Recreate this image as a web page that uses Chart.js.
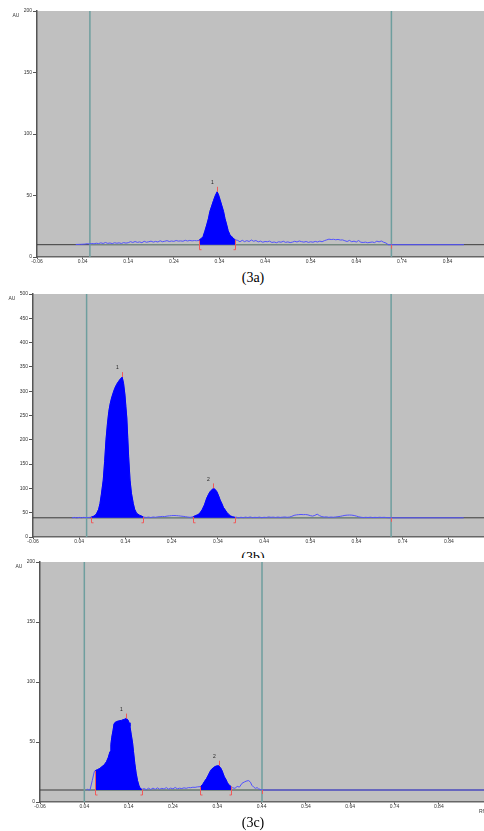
<!DOCTYPE html>
<html>
<head>
<meta charset="utf-8">
<script src="https://cdn.jsdelivr.net/npm/chart.js@4.4.1/dist/chart.umd.min.js"></script>
<style>
  html, body { margin: 0; padding: 0; background: #fff; }
  body { width: 484px; height: 831px; position: relative; overflow: hidden; }
  .panel { position: absolute; left: 0; }
  .cap {
    position: absolute; left: 213px; width: 80px; text-align: center;
    font-family: "Liberation Serif", "Times New Roman", serif; font-size: 14px; line-height: 14px; color: #000;
  }
</style>
</head>
<body>
<canvas id="chartA" class="panel" width="484" height="268" style="top:0px"></canvas>
<div class="cap" style="top:271px">(3a)</div>
<canvas id="chartB" class="panel" width="484" height="262" style="top:285px"></canvas>
<div class="cap" style="top:551px">(3b)</div>
<canvas id="chartC" class="panel" width="484" height="258" style="top:558px; background:#fff"></canvas>
<div class="cap" style="top:816px">(3c)</div>

<script>
// tick labels shared by all three densitograms
const xTicks = [-0.06, 0.04, 0.14, 0.24, 0.34, 0.44, 0.54, 0.64, 0.74, 0.84];

// ---- (3a) ----
const rfA = [
  0.025,0.035,0.045,0.05,0.055,0.06,0.065,0.07,0.075,0.08,
  0.085,0.09,0.095,0.1,0.105,0.11,0.115,0.12,0.125,0.13,
  0.135,0.14,0.145,0.15,0.155,0.16,0.165,0.17,0.175,0.18,
  0.185,0.19,0.195,0.2,0.205,0.21,0.215,0.22,0.225,0.23,
  0.235,0.24,0.245,0.25,0.255,0.26,0.265,0.27,0.275,0.28,
  0.285,0.29,
  0.295,0.3,0.304,0.308,0.312,0.316,0.319,0.323,0.327,0.331,0.335,
  0.338,0.341,0.345,0.349,0.352,0.356,0.359,0.363,0.367,0.37,0.374,
  0.38,0.385,0.39,0.395,0.4,0.405,0.41,0.415,0.42,0.425,
  0.43,0.435,0.44,0.445,0.45,0.455,0.46,0.465,0.47,0.475,
  0.48,0.485,0.49,0.495,0.5,0.505,0.51,0.515,0.52,0.525,
  0.53,0.535,0.54,0.545,0.55,0.555,0.56,0.565,0.57,0.575,
  0.58,0.585,0.59,0.595,0.6,0.605,0.61,0.615,0.62,0.625,
  0.63,0.635,0.64,0.645,0.65,0.655,0.66,0.665,0.67,0.675,
  0.68,0.685,0.69,0.695,0.7,0.705,0.71,0.876
];
const auA = [
  10.2,10.3,10.5,10.8,10.6,11.0,10.7,11.2,10.9,11.5,
  11.0,11.8,11.1,11.4,10.9,11.6,11.2,11.5,11.0,11.7,
  11.3,11.6,12.5,11.8,12.6,11.9,12.3,11.6,12.8,12.0,
  12.4,12.9,12.1,12.7,12.2,13.2,12.4,12.8,13.3,12.6,
  13.0,12.7,13.4,12.9,13.1,12.8,13.6,13.0,13.5,13.1,
  13.4,13.2,
  13.5,15,16.5,21,26,31.5,37,41.5,46,50,53,
  50.5,47,42,37,31.5,26,21.5,18,16.5,15.5,14,
  13.5,12.4,13.6,12.5,13.3,12.6,13.8,12.8,13.4,12.3,
  12.9,12.0,12.6,12.4,12.9,11.8,12.2,11.6,12.4,12.0,
  12.8,11.9,12.3,11.7,12.1,12.8,12.2,13.0,12.5,12.1,
  12.6,11.9,12.4,12.0,12.7,12.2,12.9,12.4,13.3,13.9,
  14.5,14.2,14.4,14.0,14.3,13.8,13.9,13.2,12.6,13.5,
  12.4,12.9,12.2,13.4,12.0,11.8,12.1,11.6,11.9,12.2,
  11.7,12.9,12.3,13.0,12.0,11.4,10.0,10.0
];
const peakStartA = [0.295];
const peakEndA   = [0.374];
const peakApexA  = [0.335];
const greenA     = [0.056, 0.717];

// ---- (3b) ----
const rfB = [
  0.024,0.03,0.035,0.04,0.045,0.05,0.055,0.06,
  0.065,0.07,0.075,0.078,0.082,0.085,0.088,0.092,0.095,0.098,0.101,0.104,0.107,0.11,0.114,0.117,0.121,0.125,0.129,0.133,
  0.136,0.139,0.141,0.143,0.145,0.147,0.15,0.153,0.157,0.16,0.164,0.17,0.175,0.179,
  0.185,0.19,0.195,0.2,0.205,0.21,0.215,0.22,0.225,0.23,0.235,0.24,0.245,0.25,0.255,0.26,0.265,0.27,0.275,0.28,
  0.286,0.292,0.297,0.301,0.306,0.311,0.316,0.32,0.323,0.327,0.33,
  0.334,0.338,0.342,0.345,0.349,0.352,0.356,0.36,0.363,0.367,0.372,0.377,
  0.38,0.385,0.39,0.395,0.4,0.405,0.41,0.415,0.42,0.425,
  0.43,0.435,0.44,0.445,0.45,0.455,0.46,0.465,0.47,0.475,
  0.48,0.485,0.49,0.495,0.5,0.505,0.51,0.515,0.52,0.525,
  0.53,0.535,0.54,0.545,0.55,0.555,0.56,0.565,0.57,0.575,
  0.58,0.585,0.59,0.595,0.6,0.605,0.61,0.615,0.62,0.625,
  0.63,0.635,0.64,0.645,0.65,0.655,0.66,0.665,0.67,0.675,
  0.68,0.685,0.69,0.695,0.7,0.705,0.715,0.872
];
const auB = [
  39.5,40.2,39.4,40.3,39.6,40.4,39.8,40.2,
  40.5,42,45,49,57,69,88,117,155,200,232,258,274,286,298,306,314,320,325,329,
  316,292,268,245,205,165,117,90,69,57,49,45,43,41,
  40.2,41.0,40.0,41.2,40.5,41.5,41.8,42.3,42.0,43.0,43.5,44.0,44.2,44.0,43.6,43.0,42.5,41.8,41.0,40.5,
  41.5,44,46,49,56,66,80,88,93,97,100,
  98,93,84,76,68,61,55.5,50,47,43.5,41.5,40.5,
  40.8,39.5,40.6,39.8,40.9,40.0,41.2,39.9,40.5,40.1,
  40.9,39.7,40.6,40.2,41.3,40.5,40.9,40.2,41.0,40.3,
  40.8,41.2,40.5,41.0,42.5,44.5,45.5,46.0,46.3,46.0,
  46.2,45.5,44.0,43.0,44.5,47.0,44.0,42.0,41.0,41.5,
  40.5,41.0,40.6,41.2,41.8,42.5,43.5,44.5,45.0,45.2,
  45.0,44.2,43.0,41.5,40.6,40.0,40.5,40.1,40.7,40.0,
  40.4,40.1,40.6,40.2,40.5,40.0,39.5,39.5
];
const peakStartB = [0.065, 0.286];
const peakEndB   = [0.179, 0.377];
const peakApexB  = [0.133, 0.33];
const greenB     = [0.056, 0.715];

// ---- (3c) ----
const rfC = [
  0.044,0.047,0.05,0.053,0.058,0.0625,
  0.064,0.07,0.075,0.08,0.085,0.09,0.094,0.098,0.1,0.102,0.105,0.107,0.11,0.113,0.117,0.12,0.124,0.127,0.13,0.134,
  0.137,0.139,0.141,0.143,0.146,0.149,0.151,0.154,0.157,0.16,0.163,0.166,0.17,
  0.175,0.18,0.185,0.19,0.195,0.2,0.205,0.21,0.215,0.22,0.225,0.23,0.235,0.24,0.245,0.25,0.255,0.26,0.265,0.27,0.275,0.28,0.285,0.29,0.295,
  0.302,0.307,0.311,0.316,0.32,0.324,0.327,0.331,0.335,0.338,0.343,
  0.347,0.35,0.353,0.356,0.36,0.363,0.367,0.371,
  0.375,0.38,0.385,0.39,0.396,0.402,0.407,0.411,0.415,0.418,0.422,0.426,0.43,0.433,0.437,0.441,0.942
];
const auC = [
  10,10.6,10.1,10.2,18,25.3,
  26,27,28,29.5,31,33.6,37,42,48,54,60,65,66.5,67,67.5,67.8,68,68.5,68.8,69.5,
  69,68,66,63,56,49,42,32,24,18,14,11.4,10.5,
  11.2,10.3,11.5,10.4,11.6,10.5,11.8,10.6,11.4,10.8,12.0,10.7,11.6,10.9,12.1,11.0,11.5,11.2,11.8,11.4,12.0,11.9,12.3,12.2,12.6,
  12.8,14.5,17,19.7,22.5,25.5,27.2,28.5,29.5,30,30.2,
  28.8,26.8,24,21,18.5,16,14,13,
  11.8,11.4,13.0,12.4,15.6,16.8,17.6,17.8,16.5,14.0,12.5,11.4,12.0,11.0,10.5,10.0,10.0
];
const peakStartC = [0.064, 0.302];
const peakEndC   = [0.17, 0.371];
const peakApexC  = [0.134, 0.343];
const greenC     = [0.04, 0.441];

const TICK_FONT = { family: 'Arial', size: 5 };

function makePanel(id, o) {
  const trace = o.rf.map((x, i) => ({ x, y: o.au[i] }));
  const valueAt = v => o.au[o.rf.indexOf(v)];

  const datasets = [];
  // 1) detector baseline across the whole plate
  datasets.push({ data: [{ x: -0.06, y: o.base }, { x: o.xMax, y: o.base }], borderColor: '#3a3a3a', borderWidth: 1, order: 7 });
  // integration baseline between start and front
  datasets.push({ data: [{ x: o.green[0], y: o.base }, { x: o.green[1], y: o.base }], borderColor: '#7d978a', borderWidth: 1, order: 6 });
  // 2) application / front lines
  o.green.forEach(g => datasets.push({ data: [{ x: g, y: 0 }, { x: g, y: o.yMax }], borderColor: '#6e9e9e', borderWidth: 1.5, order: 5 }));
  // 3) scanned track
  datasets.push({ data: trace, borderColor: '#5252ff', borderWidth: 1, order: 4 });
  // 4) integrated peaks
  o.starts.forEach((s, k) => {
    datasets.push({
      data: trace.filter(p => p.x >= s && p.x <= o.ends[k]),
      borderColor: '#0000ff', borderWidth: 1, backgroundColor: '#0000ff',
      fill: { value: o.base }, order: 2
    });
  });

  const overlay = {
    id: 'overlay',
    beforeDraw(chart) {
      const { ctx, chartArea: a } = chart;
      ctx.save();
      ctx.fillStyle = '#c0c0c0';
      ctx.fillRect(a.left, a.top, a.right - a.left, a.bottom - a.top);
      ctx.restore();
    },
    afterDatasetsDraw(chart) {
      const { ctx, chartArea: a, scales: { x, y } } = chart;
      const yb = y.getPixelForValue(o.base);
      ctx.save();
      ctx.strokeStyle = '#f05a5a';
      ctx.lineWidth = 1;
      const bracket = (v, dir) => {
        const px = Math.round(x.getPixelForValue(v)) + 0.5;
        ctx.beginPath();
        ctx.moveTo(px, y.getPixelForValue(valueAt(v)));
        ctx.lineTo(px, yb + 5);
        ctx.lineTo(px + 2 * dir, yb + 5);
        ctx.stroke();
      };
      o.starts.forEach((s, k) => { bracket(s, 1); bracket(o.ends[k], -1); });
      // front mark
      const fx = Math.round(x.getPixelForValue(o.green[1])) + 0.5;
      ctx.beginPath(); ctx.moveTo(fx, yb); ctx.lineTo(fx, yb + 4); ctx.stroke();
      // apex marks and peak numbers
      ctx.font = '5px Arial';
      ctx.fillStyle = '#222';
      ctx.textAlign = 'center';
      ctx.textBaseline = 'middle';
      o.apexes.forEach((v, k) => {
        const px = Math.round(x.getPixelForValue(v)) + 0.5;
        const py = y.getPixelForValue(valueAt(v));
        ctx.beginPath(); ctx.moveTo(px, py); ctx.lineTo(px, py - 5); ctx.stroke();
        ctx.fillText(String(k + 1), px - 5, py - 9);
      });
      ctx.fillStyle = '#333';
      ctx.fillText('AU', a.left - 21, a.top + 5);
      if (o.rfLabel) {
        ctx.textAlign = 'left';
        ctx.fillText('Rf', 479, a.bottom + 10);
      }
      ctx.restore();
    }
  };

  return new Chart(document.getElementById(id), {
    type: 'line',
    data: { datasets },
    options: {
      responsive: false,
      animation: false,
      events: [],
      layout: { padding: { top: o.padTop, right: 0, left: 0, bottom: 0 } },
      elements: { point: { radius: 0 }, line: { tension: 0 } },
      plugins: { legend: { display: false }, tooltip: { enabled: false } },
      scales: {
        x: {
          type: 'linear', min: -0.06, max: o.xMax,
          afterBuildTicks: s => { s.ticks = xTicks.map(v => ({ value: v })); },
          afterFit: s => { s.height = o.axisH; },
          ticks: { autoSkip: false, maxRotation: 0, padding: 0, font: TICK_FONT, color: '#333',
                   callback: v => v.toFixed(2) },
          grid: { drawOnChartArea: false, drawTicks: true, tickLength: 2, color: '#555' },
          border: { color: '#666', width: 1.5 }
        },
        y: {
          min: 0, max: o.yMax,
          afterFit: s => { s.width = o.axisW; },
          ticks: { stepSize: 50, padding: 1, font: TICK_FONT, color: '#333' },
          grid: { drawOnChartArea: false, drawTicks: true, tickLength: 4, color: '#555' },
          border: { color: '#555', width: 1.5 }
        }
      }
    },
    plugins: [overlay]
  });
}

makePanel('chartA', { rf: rfA, au: auA, base: 10, yMax: 200, xMax: 0.92,
  starts: peakStartA, ends: peakEndA, apexes: peakApexA, green: greenA,
  axisW: 37, axisH: 11, padTop: 11 });

makePanel('chartB', { rf: rfB, au: auB, base: 39.5, yMax: 500, xMax: 0.916,
  starts: peakStartB, ends: peakEndB, apexes: peakApexB, green: greenB,
  axisW: 33, axisH: 10, padTop: 9 });

makePanel('chartC', { rf: rfC, au: auC, base: 10, yMax: 200, xMax: 0.942,
  starts: peakStartC, ends: peakEndC, apexes: peakApexC, green: greenC,
  axisW: 40, axisH: 14, padTop: 4, rfLabel: true });
</script>
</body>
</html>
